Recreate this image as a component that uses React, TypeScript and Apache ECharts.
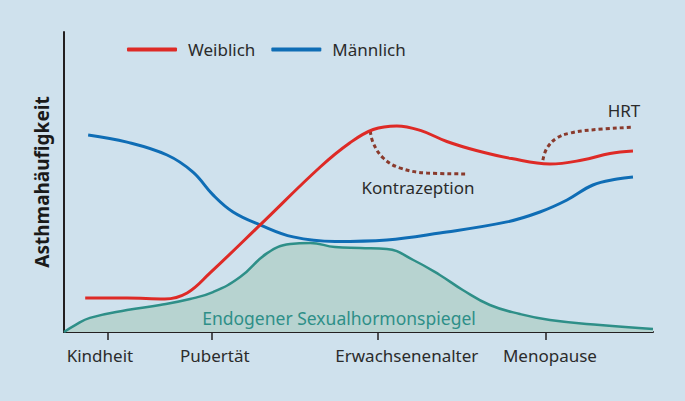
import React, { useEffect, useRef } from "react";
import * as echarts from "echarts";

const stages = ["Kindheit", "Pubertät", "Erwachsenenalter", "Menopause"];
const stageTicks = [7.5, 25, 53.3, 81.8];
const stageLabelPos = [6.1, 25.6, 58.2, 82.5];

const weiblich: [number, number][] = [
  [3.6, 11.3], [10.7, 11.3], [17.1, 11], [20.9, 13], [24.8, 19.7], [33.3, 35.7],
  [43.5, 55], [48.5, 63], [52.5, 67.5], [56.5, 68.7], [60.5, 67.2], [65, 63.5],
  [70, 60.5], [76, 57.8], [82.5, 56], [88, 57.3], [92.7, 59.5], [96.6, 60.3],
];
const maennlich: [number, number][] = [
  [4.1, 65.7], [10.7, 63.3], [17.5, 59], [21.9, 53.3], [25.3, 45.7], [28.7, 40],
  [33.3, 35.7], [38.9, 31.7], [46, 30.2], [54.8, 30.7], [63.8, 33], [75.2, 36.7],
  [80.8, 40], [85.4, 44], [89.8, 49], [93.9, 51], [96.6, 51.7],
];
const hormon: [number, number][] = [
  [0, 0], [1.9, 2.3], [4.4, 4.7], [10.7, 7.3], [16.3, 9], [21.4, 11], [25.3, 13.3],
  [29.9, 18.3], [34.5, 26.3], [38.4, 29.3], [41.8, 29.7], [46, 28.3], [50.3, 28],
  [54.8, 27.7], [59.3, 24], [63.8, 19], [67.7, 14], [72.3, 9], [77.4, 6], [82.5, 4],
  [91, 2.3], [100, 1],
];
const kontrazeption: [number, number][] = [
  [52, 67], [52.5, 63], [54.2, 58], [57, 54.7], [61.6, 53], [68.1, 52.7],
];
const hrt: [number, number][] = [
  [81.3, 57.3], [82, 61.3], [83.7, 64.7], [85.9, 66.3], [89.3, 67.3], [96.6, 68.3],
];

const FONT = "'Noto Sans', sans-serif";

export default function App() {
  const ref = useRef<HTMLDivElement>(null);
  useEffect(() => {
    if (!ref.current) return;
    const chart = echarts.init(ref.current, null, { renderer: "svg" });
    chart.setOption({
      animation: false,
      backgroundColor: "#cfe1ed",
      grid: { left: 64, right: 32, top: 32, bottom: 69 },
      legend: {
        data: ["Weiblich", "Männlich"],
        left: 122,
        top: 36,
        icon: "roundRect",
        itemWidth: 50,
        itemHeight: 4,
        itemGap: 16,
        textStyle: { fontFamily: FONT, fontSize: 17, color: "#2b2b2b", padding: [0, 0, 0, 6] },
      },
      xAxis: {
        type: "value",
        min: 0,
        max: 100,
        splitLine: { show: false },
        axisLine: { lineStyle: { color: "#231f20", width: 2 } },
        axisTick: {
          show: true,
          customValues: stageTicks,
          length: 8,
          lineStyle: { color: "#231f20", width: 1.5 },
        },
        axisLabel: {
          customValues: stageLabelPos,
          formatter: (v: number) => {
            const i = stageLabelPos.findIndex((p) => Math.abs(p - v) < 0.01);
            return i >= 0 ? stages[i] : "";
          },
          margin: 15,
          fontFamily: FONT,
          fontSize: 17,
          color: "#2b2b2b",
        },
      },
      yAxis: {
        type: "value",
        min: 0,
        max: 100,
        splitLine: { show: false },
        axisTick: { show: false },
        axisLabel: { show: false },
        axisLine: { show: true, lineStyle: { color: "#231f20", width: 2 } },
        name: "Asthmahäufigkeit",
        nameLocation: "middle",
        nameGap: 13,
        nameTextStyle: { fontFamily: FONT, fontSize: 19, fontWeight: "bold", color: "#1a1a1a" },
      },
      series: [
        {
          name: "Hormon",
          type: "line",
          data: hormon,
          smooth: 0.45,
          symbol: "none",
          lineStyle: { color: "#2e8f88", width: 2.5 },
          areaStyle: { color: "#b7d3d0", opacity: 1 },
          z: 1,
        },
        {
          name: "Männlich",
          type: "line",
          data: maennlich,
          smooth: 0.4,
          symbol: "none",
          itemStyle: { color: "#0f6db5" },
          lineStyle: { color: "#0f6db5", width: 3 },
          z: 3,
        },
        {
          name: "Kontrazeption",
          type: "line",
          data: kontrazeption,
          smooth: 0.4,
          symbol: "none",
          lineStyle: { color: "#8a3a2c", width: 3, type: [4, 3] },
          z: 2,
        },
        {
          name: "HRT",
          type: "line",
          data: hrt,
          smooth: 0.4,
          symbol: "none",
          lineStyle: { color: "#8a3a2c", width: 3, type: [4, 3] },
          z: 2,
        },
        {
          name: "Weiblich",
          type: "line",
          data: weiblich,
          smooth: 0.4,
          symbol: "none",
          itemStyle: { color: "#de2a26" },
          lineStyle: { color: "#de2a26", width: 3 },
          z: 4,
        },
      ],
      graphic: [
        {
          type: "text",
          x: 339,
          y: 318,
          style: {
            text: "Endogener Sexualhormonspiegel",
            font: `17.5px ${FONT}`,
            fill: "#2e8f88",
            align: "center",
            verticalAlign: "middle",
          },
          z: 10,
        },
        {
          type: "text",
          x: 418,
          y: 187,
          style: {
            text: "Kontrazeption",
            font: `17px ${FONT}`,
            fill: "#2b2b2b",
            align: "center",
            verticalAlign: "middle",
          },
          z: 10,
        },
        {
          type: "text",
          x: 624,
          y: 110,
          style: {
            text: "HRT",
            font: `17px ${FONT}`,
            fill: "#2b2b2b",
            align: "center",
            verticalAlign: "middle",
          },
          z: 10,
        },
      ],
    });
    return () => chart.dispose();
  }, []);
  return (
    <div
      ref={ref}
      style={{ position: "fixed", left: 0, top: 0, width: 685, height: 401 }}
    />
  );
}
